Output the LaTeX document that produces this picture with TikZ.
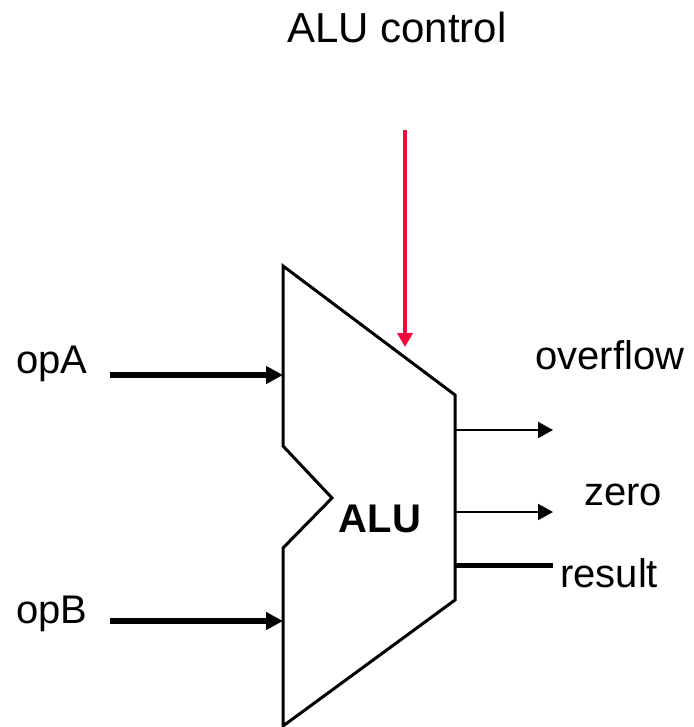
\documentclass[tikz,border=0pt]{standalone}
\usepackage{fontspec}
\setmainfont{Liberation Sans}
\usetikzlibrary{arrows.meta}
\definecolor{ctrlred}{HTML}{F2083A}

\begin{document}
\begin{tikzpicture}[x=1pt, y=-1pt,
  lbl/.style={font=\fontsize{40}{44}\selectfont, inner sep=0pt, anchor=base west},
  bus/.style={line width=6pt, -{Triangle[length=17pt, width=17pt]}},
  sig/.style={line width=2pt, -{Triangle[length=15pt, width=16pt]}}]
  \useasboundingbox (0,0) rectangle (693,727);

  % ALU body with the notch on the input side
  \draw[line width=3pt] (283,266) coordinate (tl) -- (455,395) coordinate (tr)
    -- (455,600) coordinate (br) -- (283,726) coordinate (bl)
    -- (283,548) -- (332,498) coordinate (notch) -- (283,446) -- cycle;
  \node[font=\fontsize{40}{44}\selectfont\bfseries, inner sep=0pt, anchor=base] (alu) at (380,532) {ALU};

  % ports
  \coordinate (ctrltail) at (405,130);
  \coordinate (ctrlport) at (405,347);
  \coordinate (opAtail) at (110,375);
  \coordinate (opAport) at (283,375);
  \coordinate (opBtail) at (110,621);
  \coordinate (opBport) at (283,621);
  \coordinate (ovfport) at (455,430);
  \coordinate (ovfhead) at (553,430);
  \coordinate (zeroport) at (455,512);
  \coordinate (zerohead) at (553,512);
  \coordinate (resport) at (455,565);
  \coordinate (resend) at (553,565);

  % labels
  \node[lbl, font=\fontsize{42}{46}\selectfont] (ctrl) at (287,43) {ALU control};
  \node[lbl] (opA) at (16,373) {opA};
  \node[lbl] (opB) at (16,623) {opB};
  \node[lbl] (ovf) at (535,369) {overflow};
  \node[lbl] (zero) at (584,505) {zero};
  \node[lbl] (res) at (560,587) {result};

  % connectors
  \draw[ctrlred, line width=4pt, -{Triangle[length=14pt, width=15pt]}] (ctrltail) -- (ctrlport);
  \draw[bus] (opAtail) -- (opAport);
  \draw[bus] (opBtail) -- (opBport);
  \draw[sig] (ovfport) -- (ovfhead);
  \draw[sig] (zeroport) -- (zerohead);
  \draw[line width=5pt] (resport) -- (resend);
\end{tikzpicture}
\end{document}
